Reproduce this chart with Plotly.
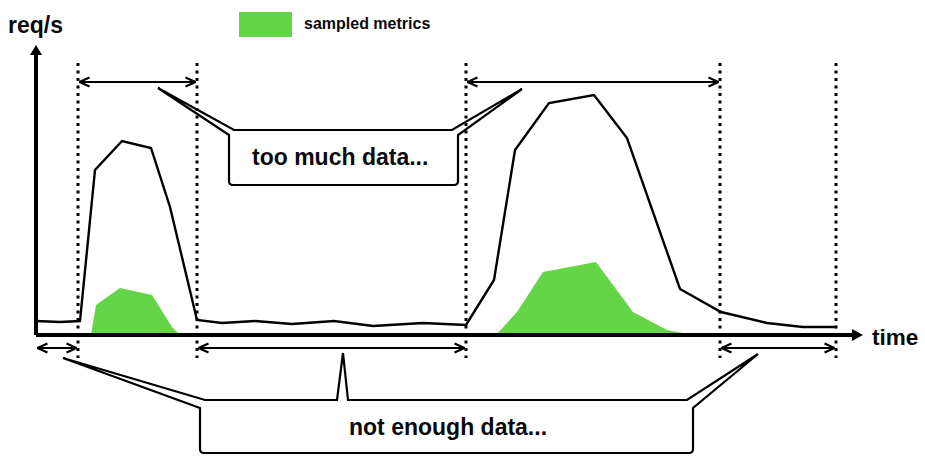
import plotly.graph_objects as go

# ---------------- data (time in px-like units, request rate in px-like units above axis)
time = [36, 60, 80, 95, 122, 151, 170, 197, 222, 255, 292, 334, 373, 423, 466,
        494, 515, 549, 594, 627, 680, 721, 767, 803, 837]
req_rate = [14, 13, 14, 165, 194, 187, 128, 15, 12, 14, 11, 14, 9, 12, 10,
            55, 185, 232, 240, 197, 46, 23, 12, 8, 8]

sampled1_t = [91, 96, 120, 152, 172, 180]
sampled1_v = [0, 30, 47, 40, 8, 0]
sampled2_t = [496, 517, 543, 596, 633, 667, 693]
sampled2_v = [0, 23, 63, 73, 23, 5, 0]

boundaries = [78, 197, 466, 720, 836]
axis_origin = 36
x_axis_end = 852
y_axis_end = 280
too_much_spans = [(78, 197), (466, 720)]
too_much_level = 253
not_enough_spans = [(36, 78), (197, 466), (720, 836)]
not_enough_level = -13
dotted_top, dotted_bottom = 272, -23

too_much_callout = dict(x0=229, x1=458, y0=150, y1=205, join=5,
                        left_tip=(158, 247), right_tip=(522, 246),
                        notch=None, text="too much data...", tx=340, ty=178)
not_enough_callout = dict(x0=200, x1=693, y0=-118, y1=-65, join=8,
                          left_tip=(63, -23), right_tip=(758, -19),
                          notch=(337, 343, 348, -18),
                          text="not enough data...", tx=448, ty=-92)

GREEN = "#63d547"
FONT = "Liberation Sans"

fig = go.Figure()

# sampled metrics areas
for t, v in [(sampled1_t, sampled1_v), (sampled2_t, sampled2_v)]:
    fig.add_trace(go.Scatter(x=t, y=v, mode="lines", fill="tozeroy",
                             fillcolor=GREEN, line=dict(width=0, color=GREEN),
                             hoverinfo="skip"))

# request rate line
fig.add_trace(go.Scatter(x=time, y=req_rate, mode="lines",
                         line=dict(color="black", width=2.4)))

# dotted boundaries
dx, dy = [], []
for b in boundaries:
    dx += [b, b, None]
    dy += [dotted_top, dotted_bottom, None]
fig.add_trace(go.Scatter(x=dx, y=dy, mode="lines",
                         line=dict(color="black", width=3, dash="3px,4.5px")))

# double-headed span arrows
def span_arrows(spans, level):
    xs, ys = [], []
    hl, hw = 10, 4.5
    for a, b in spans:
        a1, b1 = a + 1.5, b - 1.5
        xs += [a1, b1, None]
        ys += [level, level, None]
        xs += [a1 + hl, a1, a1 + hl, None]
        ys += [level + hw, level, level - hw, None]
        xs += [b1 - hl, b1, b1 - hl, None]
        ys += [level + hw, level, level - hw, None]
    return xs, ys

for spans, level in [(too_much_spans, too_much_level), (not_enough_spans, not_enough_level)]:
    xs, ys = span_arrows(spans, level)
    fig.add_trace(go.Scatter(x=xs, y=ys, mode="lines",
                             line=dict(color="black", width=2.2)))

# axes
fig.add_trace(go.Scatter(x=[axis_origin, x_axis_end, None, axis_origin, axis_origin],
                         y=[0, 0, None, 0, y_axis_end], mode="lines",
                         line=dict(color="black", width=4)))
shapes = []
shapes.append(dict(type="path", xref="x", yref="y",
                   path=f"M {x_axis_end},{6} L {x_axis_end + 11},0 L {x_axis_end},{-6} Z",
                   fillcolor="black", line=dict(width=0)))
shapes.append(dict(type="path", xref="x", yref="y",
                   path=f"M {axis_origin - 6},{y_axis_end} L {axis_origin},{y_axis_end + 10} L {axis_origin + 6},{y_axis_end} Z",
                   fillcolor="black", line=dict(width=0)))

# callouts
def callout_path(c, r=4):
    x0, x1, y0, y1, j = c["x0"], c["x1"], c["y0"], c["y1"], c["join"]
    lt, rt = c["left_tip"], c["right_tip"]
    p = [f"M {x0},{y1 - j}", f"L {lt[0]},{lt[1]}", f"L {x0 + 5},{y1}"]
    if c["notch"]:
        n0, nt, n1, ny = c["notch"]
        p += [f"L {n0},{y1}", f"L {nt},{ny}", f"L {n1},{y1}"]
    p += [f"L {x1 - 6},{y1}", f"L {rt[0]},{rt[1]}", f"L {x1},{y1 - j}",
          f"L {x1},{y0 + r}", f"Q {x1},{y0} {x1 - r},{y0}",
          f"L {x0 + r},{y0}", f"Q {x0},{y0} {x0},{y0 + r}", "Z"]
    return " ".join(p)

annotations = []
for c in [too_much_callout, not_enough_callout]:
    shapes.append(dict(type="path", xref="x", yref="y", path=callout_path(c),
                       line=dict(color="black", width=2.2), fillcolor="rgba(0,0,0,0)"))
    annotations.append(dict(x=c["tx"], y=c["ty"], xref="x", yref="y", text=c["text"],
                            showarrow=False, xanchor="center", yanchor="middle",
                            font=dict(family=FONT, size=23, color="#0a0a0a", weight="bold")))

# legend
shapes.append(dict(type="rect", xref="x", yref="y", x0=239, x1=292, y0=298, y1=323,
                   fillcolor=GREEN, line=dict(width=0)))
annotations.append(dict(x=302, y=312, xref="x", yref="y", text="sampled metrics",
                        showarrow=False, xanchor="left", yanchor="middle",
                        font=dict(family=FONT, size=16, color="#0a0a0a", weight="bold")))
annotations.append(dict(x=6, y=310, xref="x", yref="y", text="req/s",
                        showarrow=False, xanchor="left", yanchor="middle",
                        font=dict(family=FONT, size=23, color="#0a0a0a", weight="bold")))
annotations.append(dict(x=870, y=-2, xref="x", yref="y", text="time",
                        showarrow=False, xanchor="left", yanchor="middle",
                        font=dict(family=FONT, size=22.5, color="#0a0a0a", weight="bold")))

fig.update_layout(width=925, height=463, margin=dict(l=0, r=0, t=0, b=0),
                  plot_bgcolor="white", paper_bgcolor="white", showlegend=False,
                  xaxis=dict(visible=False, range=[0, 925], fixedrange=True),
                  yaxis=dict(visible=False, range=[-128, 335], fixedrange=True),
                  shapes=shapes, annotations=annotations)

fig.write_html("out.html")
